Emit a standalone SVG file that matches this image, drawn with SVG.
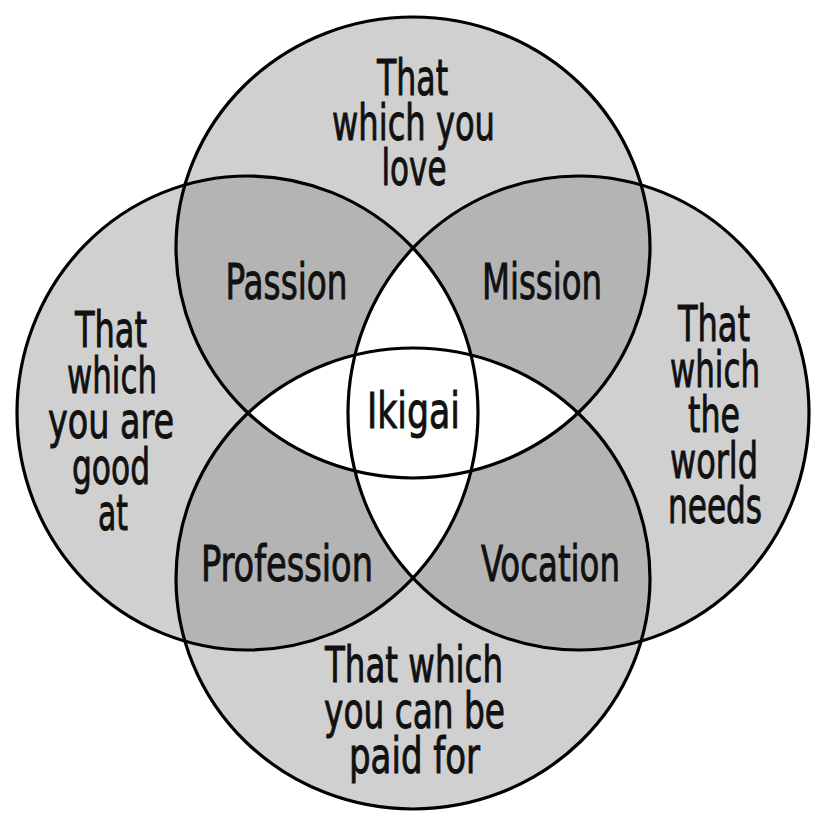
<svg xmlns="http://www.w3.org/2000/svg" xmlns:xlink="http://www.w3.org/1999/xlink" width="826" height="828" viewBox="0 0 826 828">
<style>
.light{fill:#d0d0d0}
.dark{fill:#b4b4b4}
.white{fill:#ffffff}
.ring{fill:none;stroke:#000;stroke-width:3.2}
text{font-family:"Liberation Sans Narrow","DejaVu Sans Condensed","Liberation Sans",sans-serif;font-stretch:condensed;font-size:50px;fill:#111;stroke:#111;stroke-width:0.9;text-anchor:middle}
</style>
<defs>
<clipPath id="cTop"><ellipse cx="413" cy="247.5" rx="237" ry="230.5"/></clipPath>
<clipPath id="cBottom"><ellipse cx="413" cy="578.5" rx="237" ry="230.5"/></clipPath>
<clipPath id="cLeft"><ellipse cx="247.5" cy="413" rx="230.5" ry="237"/></clipPath>
<clipPath id="cRight"><ellipse cx="578.5" cy="413" rx="230.5" ry="237"/></clipPath>
</defs>
<rect width="826" height="828" fill="#fff"/>
<g id="fills">
<ellipse class="light" cx="413" cy="247.5" rx="237" ry="230.5"/>
<ellipse class="light" cx="413" cy="578.5" rx="237" ry="230.5"/>
<ellipse class="light" cx="247.5" cy="413" rx="230.5" ry="237"/>
<ellipse class="light" cx="578.5" cy="413" rx="230.5" ry="237"/>
<ellipse class="dark" clip-path="url(#cLeft)" cx="413" cy="247.5" rx="237" ry="230.5"/>
<ellipse class="dark" clip-path="url(#cRight)" cx="413" cy="247.5" rx="237" ry="230.5"/>
<ellipse class="dark" clip-path="url(#cLeft)" cx="413" cy="578.5" rx="237" ry="230.5"/>
<ellipse class="dark" clip-path="url(#cRight)" cx="413" cy="578.5" rx="237" ry="230.5"/>
<ellipse class="white" clip-path="url(#cBottom)" cx="413" cy="247.5" rx="237" ry="230.5"/>
<ellipse class="white" clip-path="url(#cRight)" cx="247.5" cy="413" rx="230.5" ry="237"/>
</g>
<g id="love">
<ellipse class="ring" cx="413" cy="247.5" rx="237" ry="230.5"/>
<text x="412.5" y="95" textLength="71" lengthAdjust="spacingAndGlyphs">That</text>
<text x="413.5" y="140" textLength="163" lengthAdjust="spacingAndGlyphs">which you</text>
<text x="414" y="185" textLength="65" lengthAdjust="spacingAndGlyphs">love</text>
</g>
<g id="good-at">
<ellipse class="ring" cx="247.5" cy="413" rx="230.5" ry="237"/>
<text x="111" y="347" textLength="72" lengthAdjust="spacingAndGlyphs">That</text>
<text x="112" y="393" textLength="90" lengthAdjust="spacingAndGlyphs">which</text>
<text x="111" y="438" textLength="126" lengthAdjust="spacingAndGlyphs">you are</text>
<text x="111" y="484" textLength="78" lengthAdjust="spacingAndGlyphs">good</text>
<text x="113" y="530" textLength="30" lengthAdjust="spacingAndGlyphs">at</text>
</g>
<g id="world-needs">
<ellipse class="ring" cx="578.5" cy="413" rx="230.5" ry="237"/>
<text x="714" y="341" textLength="72" lengthAdjust="spacingAndGlyphs">That</text>
<text x="715" y="387" textLength="90" lengthAdjust="spacingAndGlyphs">which</text>
<text x="714" y="432" textLength="52" lengthAdjust="spacingAndGlyphs">the</text>
<text x="714" y="478" textLength="88" lengthAdjust="spacingAndGlyphs">world</text>
<text x="715" y="523" textLength="94" lengthAdjust="spacingAndGlyphs">needs</text>
</g>
<g id="paid-for">
<ellipse class="ring" cx="413" cy="578.5" rx="237" ry="230.5"/>
<text x="414" y="682" textLength="178" lengthAdjust="spacingAndGlyphs">That which</text>
<text x="414.5" y="728" textLength="181" lengthAdjust="spacingAndGlyphs">you can be</text>
<text x="414.5" y="773" textLength="131" lengthAdjust="spacingAndGlyphs">paid for</text>
</g>
<g id="passion"><text x="286.5" y="299" textLength="122" lengthAdjust="spacingAndGlyphs">Passion</text></g>
<g id="mission"><text x="542" y="299" textLength="120" lengthAdjust="spacingAndGlyphs">Mission</text></g>
<g id="ikigai"><text x="413.5" y="428" textLength="93" lengthAdjust="spacingAndGlyphs">Ikigai</text></g>
<g id="profession"><text x="287" y="581" textLength="172" lengthAdjust="spacingAndGlyphs">Profession</text></g>
<g id="vocation"><text x="550.5" y="581" textLength="139" lengthAdjust="spacingAndGlyphs">Vocation</text></g>
<g id="connectors"></g>
</svg>
